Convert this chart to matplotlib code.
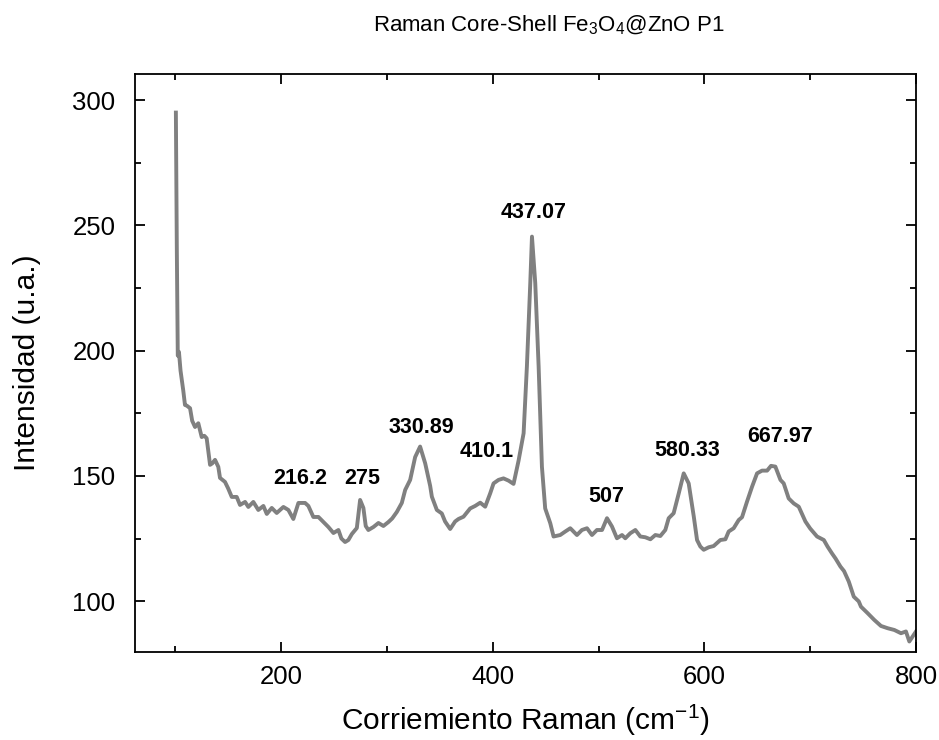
import matplotlib
matplotlib.use("Agg")
import matplotlib.pyplot as plt
from matplotlib.ticker import MultipleLocator

plt.rcParams['font.family'] = ['Liberation Sans', 'DejaVu Sans']
plt.rcParams['mathtext.fontset'] = 'custom'
plt.rcParams['mathtext.rm'] = 'Liberation Sans'
plt.rcParams['mathtext.it'] = 'Liberation Sans'
plt.rcParams['mathtext.default'] = 'regular'

raman_shift = [100.6, 101.5, 102.4, 103.5, 105, 107.6, 109.2, 111, 114, 116, 118.7, 121.8, 125, 127.5,
               129.7, 132.9, 135, 137.6, 140.7, 142.3, 147, 150, 153.4, 158.1, 161.2, 166, 169.1,
               173.8, 178.5, 183.3, 186.5, 191.2, 195.9, 202.2, 206.9, 211.6, 216.4, 222.7, 225.8,
               230.5, 235.3, 240, 244.7, 249.5, 254.2, 257, 260.5, 263.6, 266.9, 271.6, 274.7, 277.8,
               280, 282.5, 287.3, 292, 296.7, 301.5, 305, 309.4, 314.1, 317.3, 322, 326.7, 331.4,
               336.2, 340.9, 342.5, 347.2, 351.9, 355, 359.8, 364.5, 367.7, 372.4, 378.7, 383.4,
               388.2, 392.9, 397.6, 400.8, 405.5, 410.2, 415, 419.7, 424.4, 429.2, 432.3, 435.5,
               437.1, 440.2, 443.4, 446.5, 449.6, 454.4, 457.5, 463.8, 468.6, 473.3, 479.6, 484.3,
               489.1, 493.8, 498.5, 503.3, 508, 512.7, 517.4, 522.2, 525.3, 530, 534.8, 539.5, 544.2,
               549, 553.7, 558.4, 563.1, 566.3, 571, 575.8, 580.5, 585.2, 590, 593.1, 596.2, 599.4,
               604.1, 608.8, 615.1, 619.9, 623, 627.7, 632.5, 635.6, 640.3, 645.1, 649.8, 654.5,
               659.3, 663, 667.1, 671.9, 675, 679.7, 684.5, 689.2, 695.5, 700, 706.5, 712.9, 716.4,
               720.7, 724, 728.6, 732, 736.5, 741.2, 745.9, 748, 754.3, 760.6, 766.9, 773.2, 779.5,
               785.8, 790.5, 793.7, 796.8, 800]
intensity = [295, 240, 198, 199.5, 192, 184, 178.3, 178, 177, 172, 169.5, 171, 165.5, 166,
             165, 154.4, 155, 156.4, 153.6, 149.2, 147.6, 145, 141.6, 141.6, 138.4, 139.6, 137.6,
             139.6, 136.4, 138, 134.8, 137.2, 135.2, 137.6, 136.4, 132.8, 139.2, 139.2, 138,
             133.6, 133.6, 131.6, 129.6, 127.2, 128.4, 125, 123.6, 124.4, 126.8, 129.2, 140.4, 137.2,
             130, 128.4, 129.6, 131.2, 130, 131.6, 133, 135.6, 139.2, 144.4, 148.4, 157.5, 161.7,
             155, 146, 141.7, 136.4, 135, 131.8, 128.8, 131.8, 132.8, 133.7, 137, 138,
             139.3, 137.7, 143, 147, 148.4, 149, 148.1, 146.8, 156, 167, 193.6, 227,
             245.5, 227, 193.6, 153.7, 137, 131.1, 125.8, 126.4, 127.8, 129.1, 126.4, 128.4,
             129.1, 126.4, 128.4, 128.4, 133.1, 129.8, 125.1, 126.4, 125.1, 127.1, 128.4, 125.8, 125.5,
             124.7, 126.4, 126, 128.4, 133.1, 135.1, 143, 151, 147, 133.8, 124.4, 121.8, 120.5,
             121.5, 122, 124.4, 124.7, 127.8, 129.1, 132.4, 133.5, 139.7, 145.7, 151, 152.1,
             152.1, 154, 153.7, 148.4, 147, 141, 139, 137.7, 131.8, 129, 125.8, 124.4, 121.8,
             119, 117, 113.8, 112, 107.8, 101.8, 99.9, 97.8, 95.2, 92.5, 90.1, 89.2, 88.5,
             87.2, 87.9, 83.9, 85.9, 87.9]

peak_labels = ["216.2", "275", "330.89", "410.1", "437.07", "507", "580.33", "667.97"]
label_x = [218, 276.6, 333, 393.9, 438.3, 507.3, 584, 671.9]
label_y = [149, 149, 169.5, 159.6, 255.3, 141.6, 160.3, 165.6]

fig = plt.figure(figsize=(9.39, 7.40), dpi=100)
ax = fig.add_axes([0.1438, 0.1189, 0.8317, 0.7811])
ax.plot(raman_shift, intensity, color='#808080', linewidth=2.8, solid_joinstyle='round')

for lab, lx, ly in zip(peak_labels, label_x, label_y):
    ax.text(lx, ly, lab, ha='center', va='center', fontsize=15.5, fontweight='bold')

ax.set_xlim(62, 800)
ax.set_ylim(79.7, 310.4)
ax.xaxis.set_major_locator(MultipleLocator(200))
ax.xaxis.set_minor_locator(MultipleLocator(100))
ax.yaxis.set_major_locator(MultipleLocator(50))
ax.yaxis.set_minor_locator(MultipleLocator(25))
ax.tick_params(which='both', direction='in', top=True, right=True, width=1.3, labelsize=18.5)
ax.tick_params(which='major', length=7)
ax.tick_params(which='minor', length=4)
ax.tick_params(axis='x', which='major', pad=9)
ax.tick_params(axis='y', which='major', pad=14)
for s in ax.spines.values():
    s.set_linewidth(1.3)

ax.set_xlabel('Corriemiento Raman (cm$^{-1}$)', fontsize=21.5)
ax.set_ylabel('Intensidad (u.a.)', fontsize=21.5)
ax.xaxis.set_label_coords(0.5, -0.088)
ax.yaxis.set_label_coords(-0.12, 0.5)
fig.text(0.584, 0.965, 'Raman Core-Shell Fe$_3$O$_4$@ZnO P1', ha='center', va='center', fontsize=16)

fig.savefig('out.png', dpi=100)
